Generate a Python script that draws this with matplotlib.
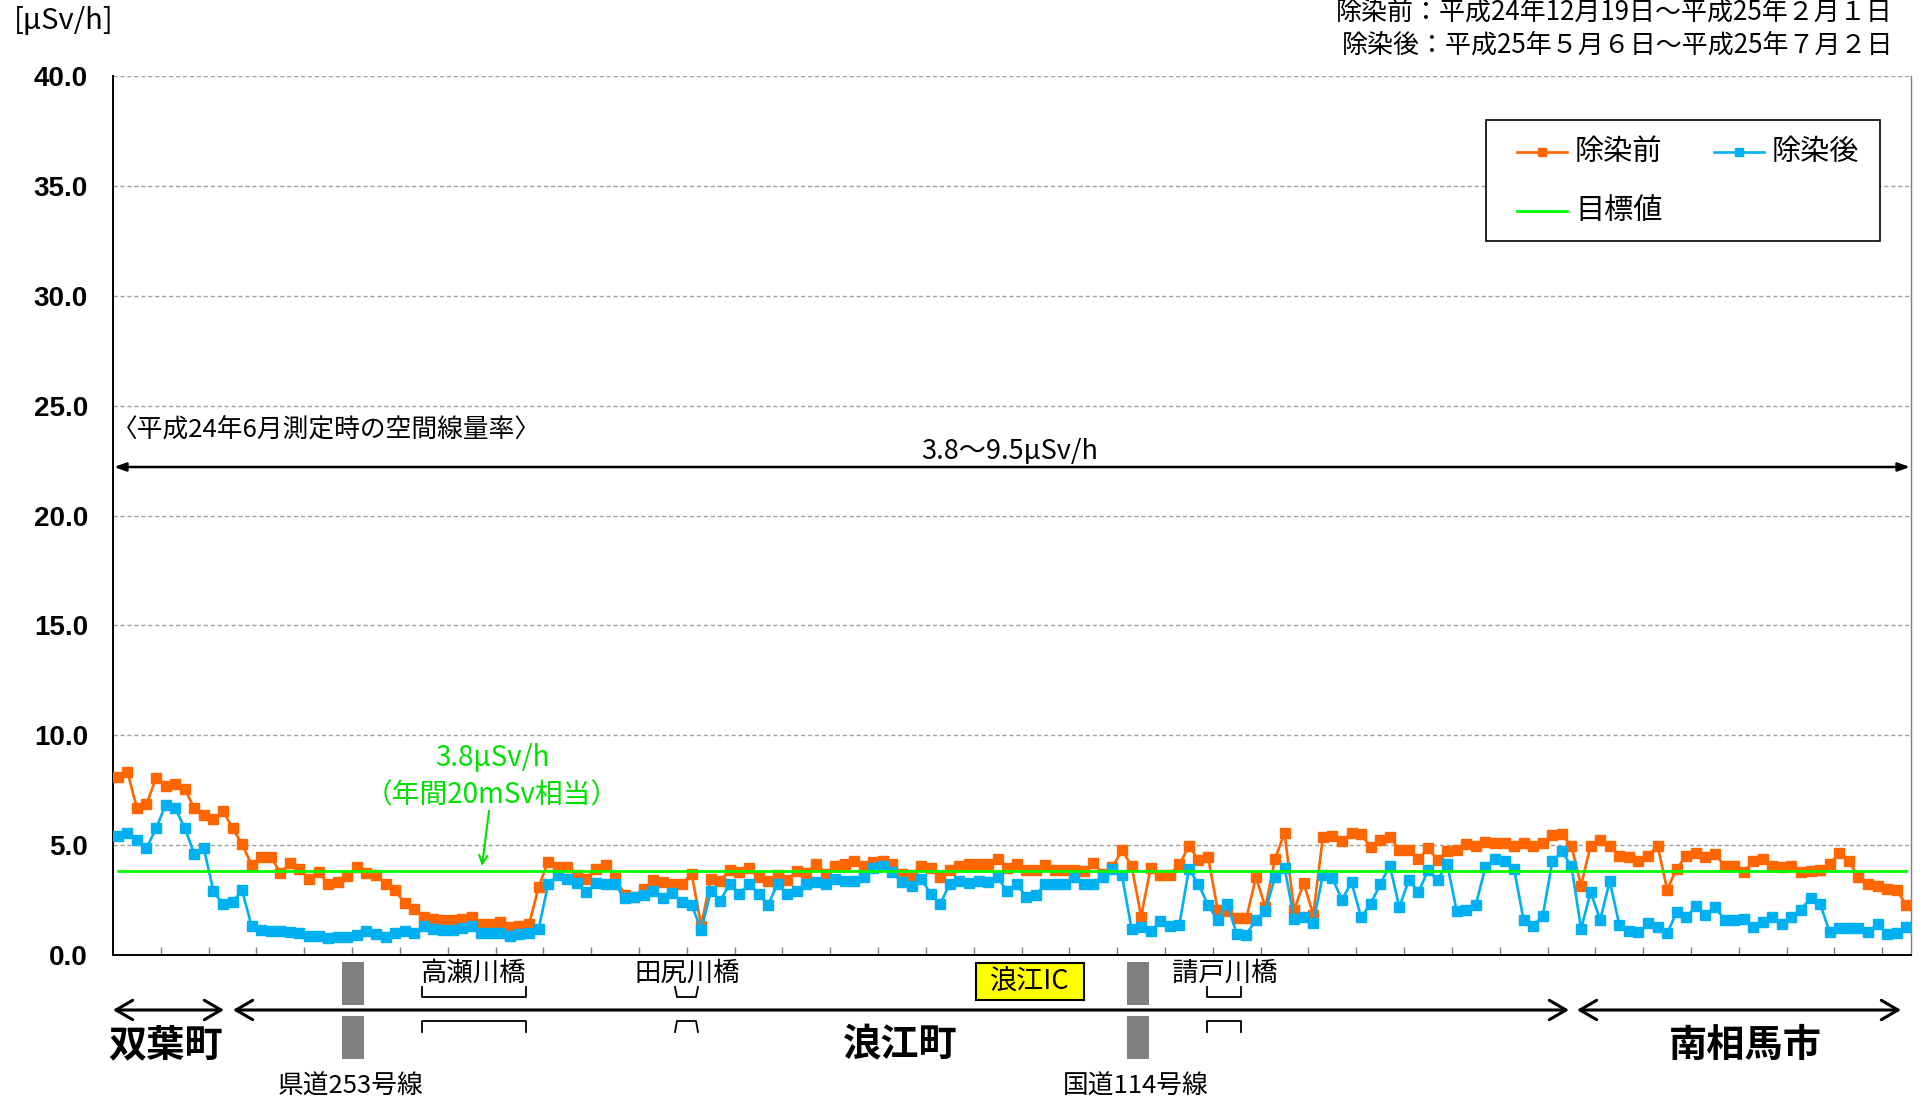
import matplotlib
matplotlib.use('Agg')
import matplotlib.pyplot as plt
from matplotlib.patches import Rectangle, FancyArrowPatch
from matplotlib.lines import Line2D
import numpy as np

plt.rcParams['font.family'] = ['Noto Sans CJK JP', 'DejaVu Sans']

# ---------------- data ----------------
before = [8.12, 8.35, 6.68, 6.86, 8.05, 7.67, 7.77, 7.56, 6.68, 6.37,
          6.17, 6.57, 5.76, 5.05, 4.09, 4.47, 4.47, 3.73, 4.19, 3.90,
          3.48, 3.78, 3.22, 3.32, 3.58, 4.01, 3.75, 3.63, 3.25, 2.94,
          2.36, 2.10, 1.72, 1.62, 1.60, 1.60, 1.62, 1.72, 1.42, 1.42,
          1.49, 1.27, 1.31, 1.39, 3.09, 4.24, 4.01, 4.01, 3.65, 3.47,
          3.92, 4.10, 3.50, 2.75, 2.65, 3.01, 3.42, 3.31, 3.24, 3.24,
          3.69, 1.34, 3.47, 3.39, 3.88, 3.77, 3.95, 3.57, 3.39, 3.65,
          3.42, 3.80, 3.72, 4.15, 3.69, 4.07, 4.15, 4.30, 4.07, 4.22,
          4.30, 4.15, 3.69, 3.62, 4.07, 3.97, 3.54, 3.85, 4.07, 4.12,
          4.12, 4.15, 4.38, 3.97, 4.15, 3.89, 3.88, 4.10, 3.85, 3.88,
          3.88, 3.81, 4.18, 3.69, 4.00, 4.76, 4.07, 1.75, 3.97, 3.65,
          3.65, 4.12, 4.95, 4.33, 4.48, 2.05, 2.02, 1.67, 1.67, 3.54,
          2.17, 4.38, 5.55, 2.05, 3.27, 1.84, 5.36, 5.41, 5.17, 5.55,
          5.49, 4.91, 5.24, 5.36, 4.80, 4.76, 4.35, 4.86, 4.33, 4.73,
          4.76, 5.03, 4.95, 5.14, 5.09, 5.09, 4.97, 5.10, 4.98, 5.11,
          5.47, 5.49, 4.95, 3.16, 4.98, 5.24, 4.98, 4.50, 4.45, 4.27,
          4.50, 4.98, 2.98, 3.92, 4.50, 4.65, 4.45, 4.60, 4.07, 4.07,
          3.77, 4.27, 4.38, 4.07, 4.00, 4.07, 3.77, 3.81, 3.88, 4.15,
          4.65, 4.26, 3.54, 3.24, 3.12, 3.01, 2.98, 2.26]

after = [5.43, 5.53, 5.23, 4.85, 5.76, 6.83, 6.68, 5.79, 4.59, 4.85,
         2.91, 2.30, 2.41, 2.94, 1.30, 1.14, 1.11, 1.08, 1.04, 0.99,
         0.88, 0.88, 0.78, 0.84, 0.84, 0.93, 1.08, 0.96, 0.84, 0.99,
         1.08, 1.01, 1.34, 1.19, 1.14, 1.14, 1.23, 1.30, 0.99, 0.99,
         0.99, 0.88, 0.96, 0.99, 1.19, 3.22, 3.63, 3.45, 3.28, 2.86,
         3.27, 3.21, 3.21, 2.58, 2.63, 2.71, 2.90, 2.58, 2.81, 2.40,
         2.29, 1.14, 2.89, 2.48, 3.24, 2.78, 3.24, 2.78, 2.29, 3.24,
         2.78, 2.93, 3.24, 3.31, 3.21, 3.47, 3.39, 3.39, 3.54, 3.97,
         4.07, 3.77, 3.31, 3.16, 3.47, 2.78, 2.33, 3.24, 3.39, 3.27,
         3.39, 3.31, 3.54, 2.89, 3.24, 2.63, 2.75, 3.22, 3.21, 3.21,
         3.54, 3.21, 3.21, 3.54, 3.92, 3.62, 1.19, 1.26, 1.08, 1.53,
         1.34, 1.38, 3.92, 3.21, 2.28, 1.57, 2.33, 0.96, 0.93, 1.61,
         2.02, 3.54, 3.97, 1.64, 1.72, 1.46, 3.62, 3.50, 2.51, 3.31,
         1.72, 2.33, 3.21, 4.07, 2.17, 3.42, 2.86, 3.85, 3.42, 4.15,
         1.99, 2.05, 2.29, 4.00, 4.38, 4.27, 3.92, 1.57, 1.34, 1.79,
         4.27, 4.71, 4.03, 1.19, 2.86, 1.60, 3.36, 1.37, 1.08, 1.03,
         1.44, 1.26, 0.99, 1.95, 1.72, 2.22, 1.82, 2.20, 1.60, 1.60,
         1.64, 1.26, 1.49, 1.72, 1.41, 1.75, 2.07, 2.60, 2.33, 1.03,
         1.23, 1.23, 1.23, 1.03, 1.41, 0.96, 0.99, 1.26]

target_value = 3.8
y_ticks = [0, 5, 10, 15, 20, 25, 30, 35, 40]
series_labels = ['除染前', '除染後', '目標値']
regions = ['双葉町', '浪江町', '南相馬市']
roads = ['県道253号線', '国道114号線']
bridges = ['高瀬川橋', '田尻川橋', '請戸川橋']
ic_label = '浪江IC'
unit_label = '[μSv/h]'
period_lines = ['除染前：平成24年12月19日～平成25年２月１日',
                '除染後：平成25年５月６日～平成25年７月２日']
note_label = '〈平成24年6月測定時の空間線量率〉'
range_label = '3.8～9.5μSv/h'
target_lines = ['3.8μSv/h', '（年間20mSv相当）']

# ---------------- figure ----------------
W, H = 1927, 1104
fig = plt.figure(figsize=(W / 100, H / 100), dpi=100)
L, R, T, B = 113, 1911, 76, 955
ax = fig.add_axes([L / W, 1 - B / H, (R - L) / W, (B - T) / H])


def P(px, py):
    return (px / W, 1 - py / H)


ORANGE = '#FF6600'
BLUE = '#00B0F0'
GREEN = '#00FF00'
TGREEN = '#00E000'
LW, MS = 1.9, 6.6

n = len(before)
x = np.arange(n)
ax.plot(x, before, color=ORANGE, lw=LW, marker='s', ms=MS, mec=ORANGE,
        mfc=ORANGE, zorder=3)
ax.plot(x, after, color=BLUE, lw=LW, marker='s', ms=MS, mec=BLUE,
        mfc=BLUE, zorder=4)
ax.plot(x, [target_value] * n, color=GREEN, lw=2.0, zorder=5)

ax.set_xlim(-0.5, n - 0.5)
ax.set_ylim(0, 40)
ax.set_yticks(y_ticks)
ax.set_yticklabels([f'{v:.1f}' for v in y_ticks], fontfamily='Liberation Sans',
                   fontweight='bold', fontsize=20)
ax.set_xticks(np.arange(4.5, n - 1, 5))
ax.set_xticklabels([])
ax.tick_params(axis='x', direction='in', length=6, color='#808080', width=1)
ax.tick_params(axis='y', length=0, pad=18)
ax.set_axisbelow(True)
ax.yaxis.grid(True, linestyle=(0, (3, 2)), color='#A0A0A0', lw=1)
ax.spines['top'].set_visible(False)
ax.spines['right'].set_color('#808080')
ax.spines['right'].set_linewidth(1)
ax.spines['left'].set_linewidth(1.4)
ax.spines['bottom'].set_linewidth(1.4)

# ---------------- legend (drawn in figure coordinates) ----------------
lx0, ly1 = P(1486, 241)
fig.add_artist(Rectangle((lx0, ly1), (1880 - 1486) / W, (241 - 120) / H,
                         transform=fig.transFigure, facecolor='white',
                         edgecolor='black', lw=1.2, zorder=10))
legend_items = [(series_labels[0], ORANGE, True, 1517, 152),
                (series_labels[1], BLUE, True, 1714, 152),
                (series_labels[2], GREEN, False, 1517, 211)]
for label, col, mk, hx, hy in legend_items:
    a, b = P(hx, hy)
    c, d = P(hx + 50, hy)
    fig.add_artist(Line2D([a, c], [b, d], transform=fig.transFigure, color=col,
                          lw=LW if mk else 2.0, zorder=11))
    if mk:
        fig.add_artist(Line2D([(a + c) / 2], [b], transform=fig.transFigure,
                              color=col, marker='s', ms=6.4, zorder=12))
    fig.text(*P(hx + 58, hy), label, ha='left', va='center', fontsize=21, zorder=12)

# ---------------- top texts ----------------
fig.text(*P(64, 21), unit_label, ha='center', va='center', fontsize=21)
fig.text(*P(1893, 12), period_lines[0], ha='right', va='center', fontsize=18.7)
fig.text(*P(1893, 45), period_lines[1], ha='right', va='center', fontsize=18.7)

# range annotation
fig.text(*P(112, 430), note_label, ha='left', va='center', fontsize=18.5)
ax.annotate('', xy=P(R - 1, 467), xytext=P(L + 1, 467), xycoords='figure fraction',
            textcoords='figure fraction',
            arrowprops=dict(arrowstyle='<|-|>,head_length=0.7,head_width=0.25',
                            color='black', lw=1.8, shrinkA=0, shrinkB=0))
fig.text(*P(1010, 451), range_label, ha='center', va='center', fontsize=19.5)

# target annotation
fig.text(*P(492, 758), target_lines[0], ha='center', va='center', fontsize=20, color=TGREEN)
fig.text(*P(492, 795), target_lines[1], ha='center', va='center', fontsize=20, color=TGREEN)
ax.annotate('', xy=P(482, 866), xytext=P(489, 811), xycoords='figure fraction',
            textcoords='figure fraction',
            arrowprops=dict(arrowstyle='->,head_length=0.6,head_width=0.3',
                            color=TGREEN, lw=1.5, shrinkA=0, shrinkB=0))

# ---------------- bottom annotations ----------------
arrow_y = 1010
for x0, x1 in [(113, 224), (233, 1569), (1577, 1901)]:
    fig.add_artist(FancyArrowPatch(
        P(x0, arrow_y), P(x1, arrow_y), transform=fig.transFigure,
        arrowstyle='<->,head_length=12,head_width=7', color='black', lw=2.2,
        shrinkA=0, shrinkB=0, mutation_scale=1))

for name, cx in zip(regions, [166, 900, 1745]):
    fig.text(*P(cx, 1045), name, ha='center', va='center', fontsize=27.5, fontweight='bold')

# road bars
for cx, label in zip([353, 1138], roads):
    for y0, y1 in [(962, 1005), (1016, 1059)]:
        x0p, y0p = P(cx - 11, y1)
        fig.add_artist(Rectangle((x0p, y0p), 22 / W, (y1 - y0) / H,
                                 transform=fig.transFigure, color='#808080', lw=0))
    fig.text(*P(cx - 2, 1087), label, ha='center', va='center', fontsize=18.5)

# bridges
bridge_spans = [(421.5, 526), (675, 698), (1207, 1241)]
bridge_text_x = [473, 687, 1225]
for (x0, x1), tx, label in zip(bridge_spans, bridge_text_x, bridges):
    fig.text(*P(tx, 973), label, ha='center', va='center', fontsize=19)
    inset = 2 if (x1 - x0) < 30 else 0
    up = [P(x0, 987), P(x0 + inset, 997), P(x1 - inset, 997), P(x1, 987)]
    lo = [P(x0, 1032), P(x0 + inset, 1021), P(x1 - inset, 1021), P(x1, 1032)]
    for pts in (up, lo):
        fig.add_artist(Line2D([p[0] for p in pts], [p[1] for p in pts],
                              transform=fig.transFigure, color='black', lw=1.3))

# IC box
bx0, by1 = P(976, 1000)
fig.add_artist(Rectangle((bx0, by1), 108 / W, 37 / H, transform=fig.transFigure,
                         facecolor='#FFFF00', edgecolor='black', lw=1.5))
fig.text(*P(1030, 982), ic_label, ha='center', va='center', fontsize=19.5)

fig.savefig('out.png', dpi=100)
